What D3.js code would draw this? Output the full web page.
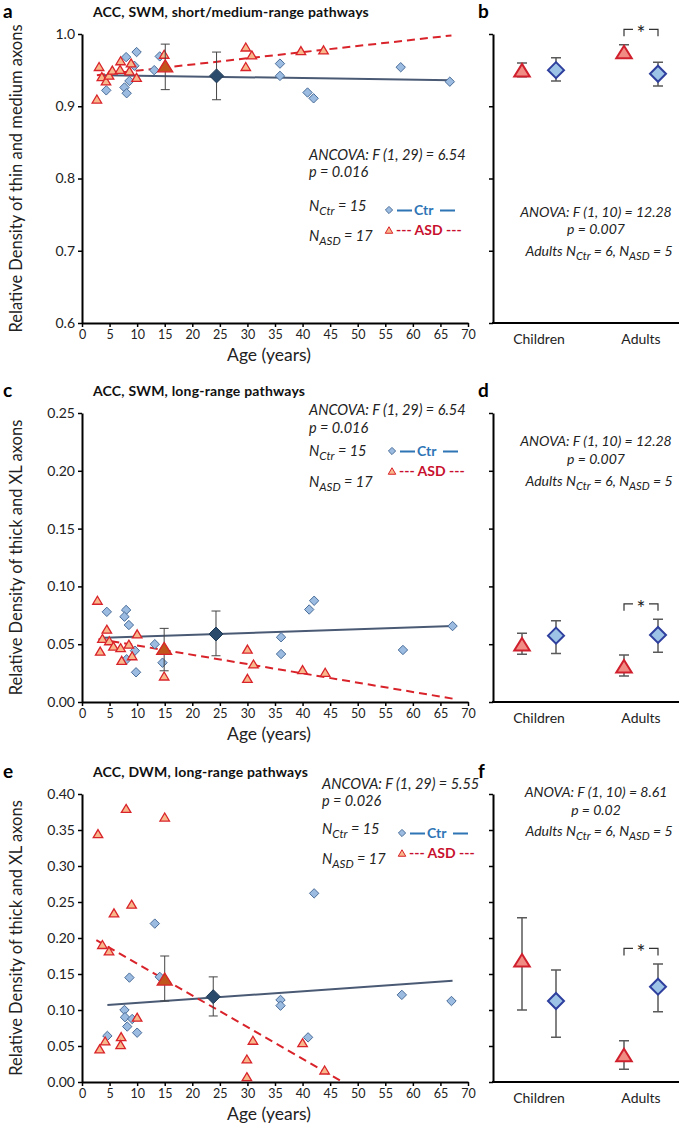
<!DOCTYPE html>
<html>
<head>
<meta charset="utf-8">
<script src="https://cdn.jsdelivr.net/npm/d3@7"></script>
<style>
  body { margin: 0; background: #fff; }
  svg { font-family: Lato, "Open Sans", sans-serif; }
  text { white-space: pre; }
</style>
</head>
<body>
<svg width="685" height="1130"></svg>
<script>
"use strict";
// ---- data ----
const ageTicks = [0, 5, 10, 15, 20, 25, 30, 35, 40, 45, 50, 55, 60, 65, 70];
const groups = ["Children", "Adults"];

// a: SWM short/medium-range  [age, density]
const aCtr = [[4.4, 0.922], [8.0, 0.968], [9.9, 0.975], [9.5, 0.956], [8.6, 0.935], [7.7, 0.926], [8.1, 0.918],
  [13.1, 0.950], [14.1, 0.969], [35.9, 0.959], [35.9, 0.942], [40.9, 0.919], [42.0, 0.911], [57.8, 0.954], [66.7, 0.934]];
const aAsd = [[2.7, 0.910], [3.1, 0.955], [3.6, 0.941], [4.35, 0.935], [4.9, 0.943], [5.5, 0.950], [7.0, 0.963],
  [6.9, 0.951], [8.6, 0.949], [8.9, 0.960], [9.9, 0.940], [14.9, 0.972], [29.7, 0.982], [30.8, 0.971], [29.7, 0.955],
  [39.7, 0.977], [43.8, 0.978]];
const aCtrMean = [24.4, 0.942, 0.909, 0.975]; // age, mean, low, high
const aAsdMean = [15.1, 0.956, 0.923, 0.986];
const aCtrTrend = [[4.0, 0.943], [66.9, 0.936]];
const aAsdTrend = [[2.7, 0.943], [67.0, 0.998]];
const aTicks = [0.6, 0.7, 0.8, 0.9, 1.0];
const aStats = ["ANCOVA: F (1, 29) = 6.54", "p = 0.016"];

// c: SWM long-range
const cCtr = [[4.5, 0.078], [8.0, 0.0796], [7.7, 0.0738], [8.5, 0.0666], [9.6, 0.0444], [8.1, 0.037], [9.8, 0.0257],
  [13.2, 0.050], [14.6, 0.034], [36.1, 0.056], [36.1, 0.0415], [41.2, 0.080], [42.1, 0.0876], [58.2, 0.045], [67.2, 0.0657]];
const cAsd = [[2.8, 0.088], [3.3, 0.044], [3.7, 0.055], [4.5, 0.063], [4.95, 0.053], [5.7, 0.0484], [7.0, 0.047],
  [7.2, 0.036], [8.5, 0.050], [9.1, 0.040], [10.0, 0.059], [14.9, 0.0225], [30.0, 0.0458], [30.0, 0.0205], [31.1, 0.0329],
  [40.0, 0.028], [44.1, 0.0257]];
const cCtrMean = [24.3, 0.0588, 0.040, 0.0787];
const cAsdMean = [14.9, 0.0464, 0.027, 0.0637];
const cCtrTrend = [[4.0, 0.0556], [67.3, 0.0657]];
const cAsdTrend = [[3.0, 0.0545], [67.6, 0.0026]];
const cTicks = [0, 0.05, 0.10, 0.15, 0.20, 0.25];
const cStats = ["ANCOVA: F (1, 29) = 6.54", "p = 0.016"];

// e: DWM long-range
const eCtr = [[13.2, 0.220], [8.6, 0.145], [14.1, 0.146], [7.7, 0.100], [7.8, 0.090], [9.1, 0.0875], [8.2, 0.077],
  [10.0, 0.0685], [4.6, 0.064], [36.0, 0.114], [36.0, 0.106], [41.0, 0.062], [58.0, 0.121], [67.0, 0.1125], [42.1, 0.262]];
const eAsd = [[2.9, 0.345], [8.0, 0.380], [15.0, 0.368], [5.8, 0.235], [9.0, 0.247], [3.7, 0.191], [4.9, 0.182],
  [10.0, 0.090], [7.1, 0.063], [4.2, 0.057], [7.0, 0.052], [3.2, 0.046], [40.0, 0.0546], [31.0, 0.058], [29.9, 0.032],
  [29.9, 0.0074], [44.0, 0.0167]];
const eCtrMean = [23.8, 0.1185, 0.0917, 0.146];
const eAsdMean = [15.0, 0.143, 0.1125, 0.175];
const eCtrTrend = [[4.6, 0.107], [67.2, 0.1407]];
const eAsdTrend = [[2.6, 0.197], [47.3, 0.0]];
const eTicks = [0, 0.05, 0.10, 0.15, 0.20, 0.25, 0.30, 0.35, 0.40];
const eStats = ["ANCOVA: F (1, 29) = 5.55", "p = 0.026"];

const nCtr = 15, nAsd = 17;

// b, d, f: group means  [mean, low, high] for Children, Adults
const bAsd = [[0.950, 0.941, 0.960], [0.975, 0.967, 0.985]];
const bCtr = [[0.950, 0.935, 0.967], [0.945, 0.928, 0.961]];
const dAsd = [[0.050, 0.0413, 0.0594], [0.031, 0.0225, 0.0407]];
const dCtr = [[0.0574, 0.042, 0.0703], [0.058, 0.043, 0.0715]];
const fAsd = [[0.169, 0.100, 0.228], [0.0375, 0.0176, 0.0574]];
const fCtr = [[0.1125, 0.062, 0.1556], [0.1324, 0.0977, 0.164]];
const bStats = ["ANOVA: F (1, 10) = 12.28", "p = 0.007"];
const dStats = ["ANOVA: F (1, 10) = 12.28", "p = 0.007"];
const fStats = ["ANOVA: F (1, 10) = 8.61", "p = 0.02"];
const adultsN = [6, 5];

// ---- drawing ----
const svg = d3.select("svg");
const ctrFill = "#9bbbe0", ctrStroke = "#4a6d99";
const asdFill = "#f8b88b", asdStroke = "#d9232a";

const diamond = r => `M0,${-r}L${r},0L0,${r}L${-r},0Z`;
const triangle = (w, h) => `M0,${-h / 2}L${w / 2},${h / 2}L${-w / 2},${h / 2}Z`;

function richText(g, x, y, anchor, parts, size) {
    const t = g.append("text")
        .attr("x", x).attr("y", y)
        .attr("text-anchor", anchor)
        .style("font-style", "italic")
        .style("font-size", `${size}px`)
        .style("fill", "#222");
    let low = false;
    parts.forEach(p => {
        const s = t.append("tspan").text(p[0]);
        if (p[1]) {
            s.style("font-size", `${size * 0.8}px`);
            if (!low) { s.attr("dy", 4); low = true; }
        } else if (low) {
            s.attr("dy", -4);
            low = false;
        }
    });
}

function errorBar(g, x, y1, y2, cap, color, width) {
    g.append("path")
        .attr("d", `M${x - cap},${y1}H${x + cap}M${x},${y1}V${y2}M${x - cap},${y2}H${x + cap}`)
        .attr("fill", "none")
        .attr("stroke", color)
        .attr("stroke-width", width);
}

function styleAxis(ax) {
    ax.select(".domain").attr("stroke", "#000").attr("stroke-width", 2);
    ax.selectAll(".tick line").attr("stroke", "#000").attr("stroke-width", 1.5);
    ax.selectAll(".tick text").attr("fill", "#222");
}

const scatterPanels = [
    { letter: "a", title: "ACC, SWM, short/medium-range pathways", yLabel: "Relative Density of thin and medium axons",
      top: 34, bottom: 323, domain: [0.6, 1.0], ticks: aTicks, fmt: ".1f",
      ctr: aCtr, asd: aAsd, ctrMean: aCtrMean, asdMean: aAsdMean, ctrTrend: aCtrTrend, asdTrend: aAsdTrend,
      stats: aStats, statX: 309, statY: [160, 177, 211, 241], legX: 389, legY: [210, 230] },
    { letter: "c", title: "ACC, SWM, long-range pathways", yLabel: "Relative Density of thick and XL axons",
      top: 413, bottom: 702, domain: [0, 0.25], ticks: cTicks, fmt: ".2f",
      ctr: cCtr, asd: cAsd, ctrMean: cCtrMean, asdMean: cAsdMean, ctrTrend: cCtrTrend, asdTrend: cAsdTrend,
      stats: cStats, statX: 309, statY: [415, 433, 456, 487], legX: 392, legY: [451, 471] },
    { letter: "e", title: "ACC, DWM, long-range pathways", yLabel: "Relative Density of thick and XL axons",
      top: 794, bottom: 1082, domain: [0, 0.4], ticks: eTicks, fmt: ".2f",
      ctr: eCtr, asd: eAsd, ctrMean: eCtrMean, asdMean: eAsdMean, ctrTrend: eCtrTrend, asdTrend: eAsdTrend,
      stats: eStats, statX: 322, statY: [789, 806, 834, 864], legX: 402, legY: [833, 853] }
];

const x = d3.scaleLinear().domain([0, 70]).range([82, 468]);

scatterPanels.forEach(p => {
    const y = d3.scaleLinear().domain(p.domain).range([p.bottom, p.top]);
    const g = svg.append("g");

    g.append("text").attr("x", 3).attr("y", p.top - 16)
        .style("font-size", "19px").style("font-weight", "bold").text(p.letter);
    g.append("text").attr("x", 93).attr("y", p.top - 17)
        .style("font-size", "14px").style("font-weight", "bold")
        .style("letter-spacing", "0.2px").style("fill", "#111").text(p.title);

    const yAx = g.append("g").attr("transform", `translate(${x(0)},0)`)
        .call(d3.axisLeft(y).tickValues(p.ticks).tickFormat(d3.format(p.fmt)).tickSize(4).tickPadding(3).tickSizeOuter(0))
        .style("font-size", "14px").style("font-family", "Lato, sans-serif");
    styleAxis(yAx);
    const xAx = g.append("g").attr("transform", `translate(0,${p.bottom})`)
        .call(d3.axisBottom(x).tickValues(ageTicks).tickSize(4).tickPadding(3).tickSizeOuter(0))
        .style("font-size", "12.5px").style("font-family", "Lato, sans-serif");
    styleAxis(xAx);

    g.append("text")
        .attr("transform", `translate(22,${(p.top + p.bottom) / 2}) rotate(-90)`)
        .attr("text-anchor", "middle")
        .style("font-size", "16.5px").style("fill", "#222").text(p.yLabel);
    g.append("text").attr("x", 269).attr("y", p.bottom + 38)
        .attr("text-anchor", "middle")
        .style("font-size", "17.5px").style("fill", "#222").text("Age (years)");

    const line = d3.line().x(d => x(d[0])).y(d => y(d[1]));
    g.append("path").datum(p.ctrTrend).attr("d", line)
        .attr("fill", "none").attr("stroke", "#4a5a74").attr("stroke-width", 2);
    g.append("path").datum(p.asdTrend).attr("d", line)
        .attr("fill", "none").attr("stroke", asdStroke).attr("stroke-width", 2)
        .attr("stroke-dasharray", "8,5");

    g.selectAll(".ctr").data(p.ctr).enter().append("path")
        .attr("d", diamond(4.7))
        .attr("transform", d => `translate(${x(d[0])},${y(d[1])})`)
        .attr("fill", ctrFill).attr("stroke", ctrStroke).attr("stroke-width", 1);
    g.selectAll(".asd").data(p.asd).enter().append("path")
        .attr("d", triangle(9.5, 8))
        .attr("transform", d => `translate(${x(d[0])},${y(d[1])})`)
        .attr("fill", asdFill).attr("stroke", asdStroke).attr("stroke-width", 1.3);

    // group means with error bars
    errorBar(g, x(p.asdMean[0]), y(p.asdMean[3]), y(p.asdMean[2]), 4.5, "#444", 1);
    errorBar(g, x(p.ctrMean[0]), y(p.ctrMean[3]), y(p.ctrMean[2]), 4.5, "#444", 1);
    g.append("path").attr("d", triangle(15, 12))
        .attr("transform", `translate(${x(p.asdMean[0])},${y(p.asdMean[1])})`)
        .attr("fill", "#c0561b").attr("stroke", asdStroke).attr("stroke-width", 1.3);
    g.append("path").attr("d", diamond(7))
        .attr("transform", `translate(${x(p.ctrMean[0])},${y(p.ctrMean[1])})`)
        .attr("fill", "#2a4b6c").attr("stroke", "#1f3a55").attr("stroke-width", 1);

    // statistics
    richText(g, p.statX, p.statY[0], "start", [[p.stats[0]]], 14.5);
    richText(g, p.statX, p.statY[1], "start", [[p.stats[1]]], 14.5);
    richText(g, p.statX, p.statY[2], "start", [["N"], ["Ctr", true], [` = ${nCtr}`]], 14.5);
    richText(g, p.statX, p.statY[3], "start", [["N"], ["ASD", true], [` = ${nAsd}`]], 14.5);

    // legend
    const lx = p.legX + 8;
    g.append("path").attr("d", diamond(3.6))
        .attr("transform", `translate(${p.legX},${p.legY[0]})`)
        .attr("fill", ctrFill).attr("stroke", ctrStroke).attr("stroke-width", 1);
    g.append("path").attr("d", `M${lx},${p.legY[0] + 0.5}h15M${lx + 43},${p.legY[0] + 0.5}h15`)
        .attr("stroke", "#2e75b6").attr("stroke-width", 1.8);
    g.append("text").attr("x", lx + 17).attr("y", p.legY[0] + 5)
        .style("font-size", "14px").style("font-weight", "bold").style("fill", "#2e75b6")
        .text("Ctr");
    g.append("path").attr("d", triangle(7.5, 6.5))
        .attr("transform", `translate(${p.legX},${p.legY[1]})`)
        .attr("fill", asdFill).attr("stroke", asdStroke).attr("stroke-width", 1);
    g.append("text").attr("x", lx - 1).attr("y", p.legY[1] + 5)
        .style("font-size", "14px").style("font-weight", "bold").style("fill", "#c8102e")
        .text("--- ASD ---");
});

const groupPanels = [
    { letter: "b", top: 34, bottom: 323, domain: [0.6, 1.0], ticks: aTicks, asd: bAsd, ctr: bCtr,
      stats: bStats, statY: [217, 234, 256] },
    { letter: "d", top: 413, bottom: 702, domain: [0, 0.25], ticks: cTicks, asd: dAsd, ctr: dCtr,
      stats: dStats, statY: [446, 464, 486] },
    { letter: "f", top: 794, bottom: 1082, domain: [0, 0.4], ticks: eTicks, asd: fAsd, ctr: fCtr,
      stats: fStats, statY: [797, 815, 836] }
];

const gx = d3.scalePoint().domain(groups).range([539, 641]);
const off = 17;

groupPanels.forEach(p => {
    const y = d3.scaleLinear().domain(p.domain).range([p.bottom, p.top]);
    const g = svg.append("g");

    g.append("text").attr("x", 478).attr("y", p.top - 16)
        .style("font-size", "19px").style("font-weight", "bold").text(p.letter);

    const yAx = g.append("g").attr("transform", "translate(493,0)")
        .call(d3.axisLeft(y).tickValues(p.ticks).tickFormat("").tickSize(4).tickSizeOuter(0));
    styleAxis(yAx);
    g.append("line").attr("x1", 492).attr("x2", 679).attr("y1", p.bottom).attr("y2", p.bottom)
        .attr("stroke", "#000").attr("stroke-width", 2);

    g.selectAll(".cat").data(groups).enter().append("text")
        .attr("x", d => gx(d)).attr("y", p.bottom + 21)
        .attr("text-anchor", "middle")
        .style("font-size", "14px").style("fill", "#222").text(d => d);

    groups.forEach((grp, i) => {
        const a = p.asd[i], c = p.ctr[i];
        errorBar(g, gx(grp) - off, y(a[2]), y(a[1]), 5, "#5a5a5a", 1.5);
        errorBar(g, gx(grp) + off, y(c[2]), y(c[1]), 5, "#5a5a5a", 1.5);
        g.append("path").attr("d", triangle(15.5, 12.5))
            .attr("transform", `translate(${gx(grp) - off},${y(a[0])})`)
            .attr("fill", "#f08c84").attr("stroke", "#d0202e").attr("stroke-width", 2);
        g.append("path").attr("d", diamond(8))
            .attr("transform", `translate(${gx(grp) + off},${y(c[0])})`)
            .attr("fill", "#9dc3e6").attr("stroke", "#2e3f9e").attr("stroke-width", 2);
    });

    // significance bracket over adults
    const x1 = gx("Adults") - off, x2 = gx("Adults") + off, xm = gx("Adults");
    const by = y(Math.max(p.asd[1][2], p.ctr[1][2])) - 15.5;
    g.append("path")
        .attr("d", `M${x1},${by + 7}V${by}H${xm - 8}M${xm + 8},${by}H${x2}V${by + 7}`)
        .attr("fill", "none").attr("stroke", "#333").attr("stroke-width", 1.2);
    g.append("text").attr("x", xm).attr("y", by + 12)
        .attr("text-anchor", "middle").style("font-size", "21px").style("fill", "#222").text("*");

    richText(g, 596, p.statY[0], "middle", [[p.stats[0]]], 14);
    richText(g, 596, p.statY[1], "middle", [[p.stats[1]]], 14);
    richText(g, 599, p.statY[2], "middle",
        [["Adults N"], ["Ctr", true], [` = ${adultsN[0]}, N`], ["ASD", true], [` = ${adultsN[1]}`]], 14);
});
</script>
</body>
</html>
